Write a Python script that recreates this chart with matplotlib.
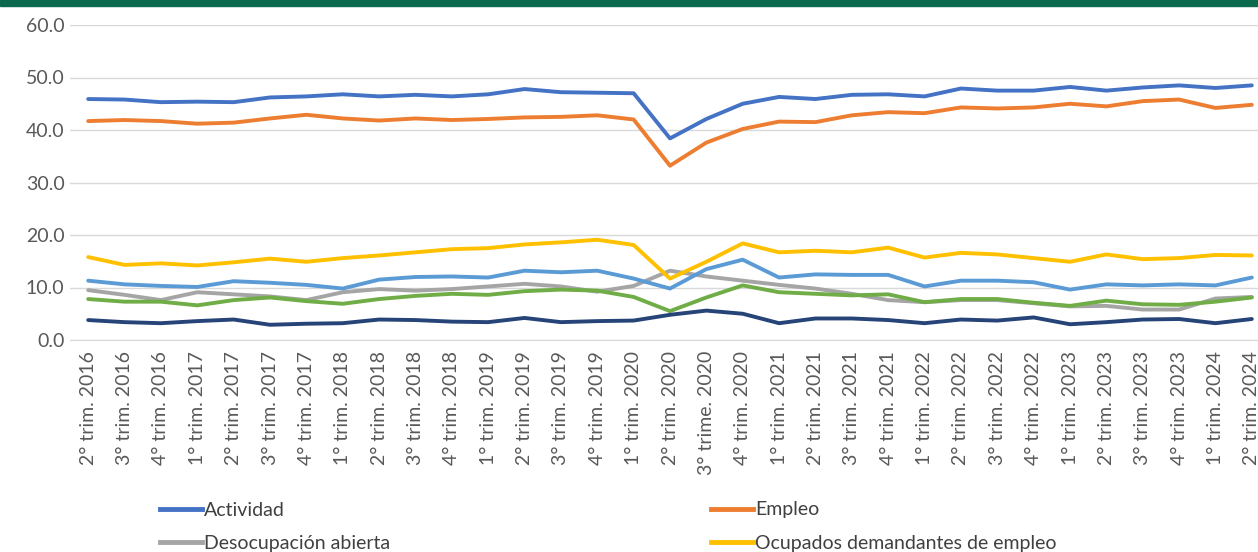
import matplotlib.pyplot as plt
from matplotlib.lines import Line2D
from matplotlib.patches import Rectangle

plt.rcParams['font.family'] = ['Lato', 'DejaVu Sans']

trimestres = ['2° trim. 2016', '3° trim. 2016', '4° trim. 2016',
              '1° trim. 2017', '2° trim. 2017', '3° trim. 2017', '4° trim. 2017',
              '1° trim. 2018', '2° trim. 2018', '3° trim. 2018', '4° trim. 2018',
              '1° trim. 2019', '2° trim. 2019', '3° trim. 2019', '4° trim. 2019',
              '1° trim. 2020', '2° trim. 2020', '3° trime. 2020', '4° trim. 2020',
              '1° trim. 2021', '2° trim. 2021', '3° trim. 2021', '4° trim. 2021',
              '1° trim. 2022', '2° trim. 2022', '3° trim. 2022', '4° trim. 2022',
              '1° trim. 2023', '2° trim. 2023', '3° trim. 2023', '4° trim. 2023',
              '1° trim. 2024', '2° trim. 2024']

actividad = [45.9, 45.8, 45.3, 45.4, 45.3, 46.2, 46.4, 46.8, 46.4, 46.7, 46.4,
             46.8, 47.8, 47.2, 47.1, 47.0, 38.4, 42.1, 45.0, 46.3, 45.9, 46.7,
             46.8, 46.4, 47.9, 47.5, 47.5, 48.2, 47.5, 48.1, 48.5, 48.0, 48.5]
empleo = [41.7, 41.9, 41.7, 41.2, 41.4, 42.2, 42.9, 42.2, 41.8, 42.2, 41.9,
          42.1, 42.4, 42.5, 42.8, 42.0, 33.2, 37.6, 40.2, 41.6, 41.5, 42.8,
          43.4, 43.2, 44.3, 44.1, 44.3, 45.0, 44.5, 45.5, 45.8, 44.2, 44.8]
desocupacion_abierta = [9.5, 8.6, 7.6, 9.1, 8.7, 8.3, 7.6, 9.1, 9.7, 9.4, 9.7,
                        10.2, 10.7, 10.2, 9.2, 10.3, 13.2, 12.1, 11.3, 10.5, 9.8,
                        8.8, 7.6, 7.2, 7.6, 7.6, 7.0, 6.4, 6.5, 5.8, 5.8, 7.9, 8.2]
ocupados_demandantes = [15.8, 14.3, 14.6, 14.2, 14.8, 15.5, 14.9, 15.6, 16.1,
                        16.7, 17.3, 17.5, 18.2, 18.6, 19.1, 18.1, 11.7, 14.9,
                        18.4, 16.7, 17.0, 16.7, 17.6, 15.7, 16.6, 16.3, 15.6,
                        14.9, 16.3, 15.4, 15.6, 16.2, 16.1]
serie_5 = [11.3, 10.6, 10.3, 10.1, 11.2, 10.9, 10.5, 9.8, 11.5, 12.0, 12.1, 11.9,
           13.2, 12.9, 13.2, 11.7, 9.8, 13.5, 15.3, 11.9, 12.5, 12.4, 12.4,
           10.2, 11.3, 11.3, 11.0, 9.6, 10.6, 10.4, 10.6, 10.4, 11.9]
serie_6 = [7.8, 7.3, 7.3, 6.6, 7.6, 8.1, 7.4, 6.9, 7.8, 8.4, 8.8, 8.6, 9.3, 9.6,
           9.4, 8.2, 5.5, 8.1, 10.4, 9.1, 8.8, 8.5, 8.7, 7.2, 7.8, 7.8, 7.1,
           6.5, 7.5, 6.8, 6.7, 7.3, 8.1]
serie_7 = [3.8, 3.4, 3.2, 3.6, 3.9, 2.9, 3.1, 3.2, 3.9, 3.8, 3.5, 3.4, 4.2, 3.4,
           3.6, 3.7, 4.8, 5.6, 5.0, 3.2, 4.1, 4.1, 3.8, 3.2, 3.9, 3.7, 4.3,
           3.0, 3.4, 3.9, 4.0, 3.2, 4.0]

series = [
    (actividad, '#4472C4', 'Actividad'),
    (empleo, '#ED7D31', 'Empleo'),
    (desocupacion_abierta, '#A5A5A5', 'Desocupación abierta'),
    (ocupados_demandantes, '#FFC000', 'Ocupados demandantes de empleo'),
    (serie_5, '#5B9BD5', None),
    (serie_6, '#70AD47', None),
    (serie_7, '#264478', None),
]

fig = plt.figure(figsize=(12.58, 5.52), dpi=100)
W, H = 1258, 552
ax = fig.add_axes([70 / W, (H - 340) / H, 1200 / W, 315 / H])

x = list(range(len(trimestres)))
for valores, color, nombre in series:
    ax.plot(x, valores, color=color, lw=2.8, solid_joinstyle='round',
            solid_capstyle='round')

ax.set_ylim(0, 60)
ax.set_xlim(-0.5, len(trimestres) - 0.5)
ax.set_yticks([0, 10, 20, 30, 40, 50, 60])
ax.set_yticklabels([f'{v:.1f}' for v in [0, 10, 20, 30, 40, 50, 60]])
ax.set_xticks(x)
ax.set_xticklabels(trimestres, rotation=90)
ax.tick_params(axis='both', length=0, labelsize=14, labelcolor='#595959')
ax.tick_params(axis='x', pad=8)
ax.tick_params(axis='y', pad=4)
ax.grid(axis='y', color='#D9D9D9', lw=1)
ax.set_axisbelow(True)
for s in ['top', 'right', 'left']:
    ax.spines[s].set_visible(False)
ax.spines['bottom'].set_color('#D9D9D9')

# franja verde superior
fig.patches.append(Rectangle((0, 1 - 6 / H), 1, 6 / H, transform=fig.transFigure,
                             color='#0B6A4E', zorder=10))

# leyenda (recortada abajo como en el original)
def handle(c):
    return Line2D([], [], color=c, lw=3.5)

kw = dict(frameon=False, fontsize=14, handlelength=2.2, handletextpad=0.1,
          labelspacing=0.85, loc='upper left', labelcolor='#404040')
fig.legend([handle('#4472C4'), handle('#A5A5A5')],
           ['Actividad', 'Desocupación abierta'],
           bbox_to_anchor=(142 / W, 1 - 484 / H), **kw)
fig.legend([handle('#ED7D31'), handle('#FFC000')],
           ['Empleo', 'Ocupados demandantes de empleo'],
           bbox_to_anchor=(693 / W, 1 - 484 / H), **kw)

fig.savefig('out.png', dpi=100)
